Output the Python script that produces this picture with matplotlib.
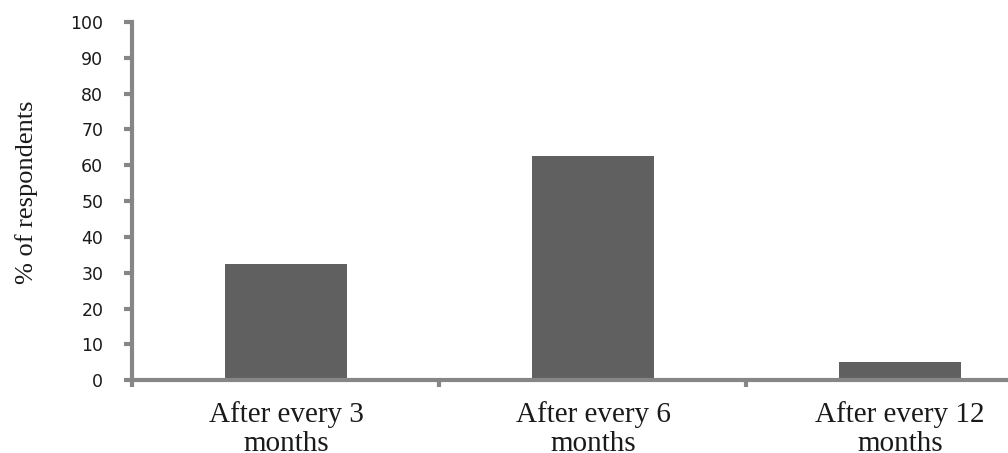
import matplotlib
matplotlib.use("Agg")
import matplotlib.pyplot as plt
import numpy as np

# survey: how often respondents do it
categories = ["After every 3\nmonths", "After every 6\nmonths", "After every 12\nmonths"]
percent = [32.5, 62.5, 5.0]
yticks = list(range(0, 101, 10))

axis_grey = "#868686"
bar_grey = "#606060"

fig = plt.figure(figsize=(10.08, 4.53), dpi=100)
ax = fig.add_axes([0.1314, 0.1605, 0.9137, 0.791])

x = np.arange(len(categories))
ax.bar(x, percent, width=0.4, color=bar_grey, zorder=1)

ax.set_xlim(-0.5, len(categories) - 0.5)
ax.set_ylim(0, 100)

# axis lines like the old office charts
for side in ["top", "right"]:
    ax.spines[side].set_visible(False)
for side in ["left", "bottom"]:
    ax.spines[side].set_color(axis_grey)
    ax.spines[side].set_linewidth(3)
    ax.spines[side].set_zorder(3)

ax.set_yticks(yticks)
ax.set_yticklabels([str(t) for t in yticks], fontsize=12.5, color="#1a1a1a",
                   family="DejaVu Sans")
ax.tick_params(axis="y", direction="out", length=6, width=3, color=axis_grey, pad=15)

# tick marks between categories, labels in the middle
ax.set_xticks(np.arange(-0.5, len(categories), 1.0))
ax.set_xticklabels([])
ax.tick_params(axis="x", which="major", direction="out", length=5, width=3, color=axis_grey)
ax.set_xticks(x, minor=True)
ax.set_xticklabels(categories, minor=True, fontsize=21, family="Liberation Serif",
                   color="#1a1a1a", linespacing=1.15)
ax.tick_params(axis="x", which="minor", length=0, pad=15)

fig.text(27 / 1008, 1 - 192 / 453, "% of respondents", rotation=90, ha="center",
         va="center", fontsize=19, family="Liberation Serif", color="#1a1a1a")

fig.savefig("out.png", dpi=100)
